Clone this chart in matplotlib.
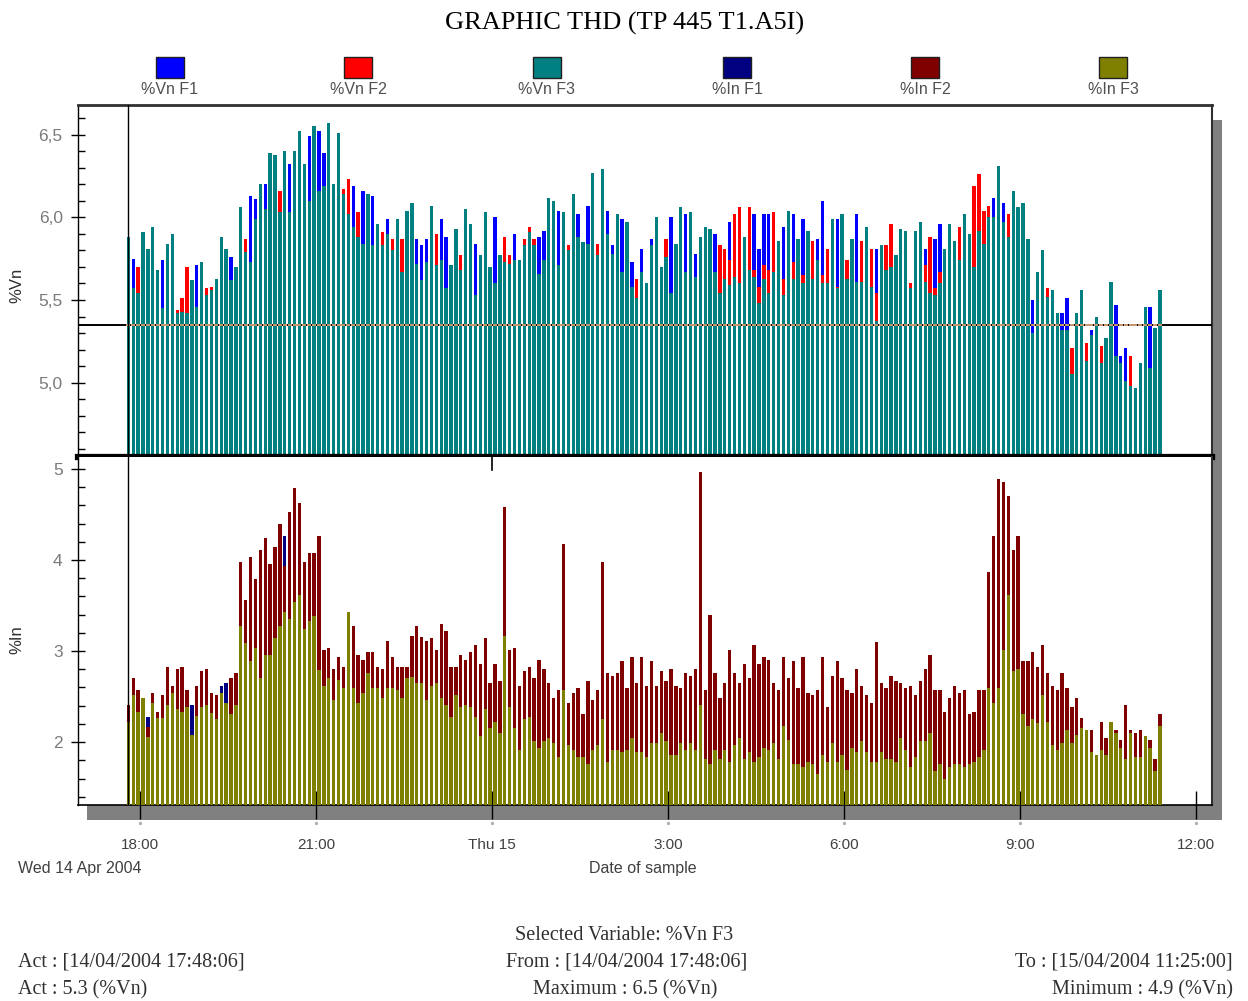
import numpy as np
import pandas as pd
import matplotlib
matplotlib.use("Agg")
import matplotlib.pyplot as plt
import matplotlib.dates as mdates
import matplotlib.transforms as mtransforms
from matplotlib.patches import Rectangle
from matplotlib.ticker import MultipleLocator, FuncFormatter
from datetime import datetime

N = None

# ---- sampling: one record every 5 minutes --------------------------------
start_time = "2004-04-14 17:48:06"
n_samples = 212
sample_step = "5min"

# ---- voltage THD (%Vn) ----------------------------------------------------
vn_f3 = [
    5.88, 5.57, 5.54, 5.91, 5.81, 5.94, 5.68, 5.45, 5.84, 5.90,
    5.42, 5.43, 5.42, 5.62, 5.46, 5.73, 5.53, 5.56, 5.63, 5.88,
    5.81, 5.62, 5.70, 6.06, 5.79, 5.73, 5.99, 6.20, 6.05, 6.39,
    6.38, 6.03, 6.40, 6.03, 6.40, 6.52, 6.32, 6.10, 6.55, 6.16,
    6.19, 6.57, 6.20, 6.51, 6.14, 6.02, 5.94, 5.88, 5.84, 6.14,
    5.83, 5.96, 5.83, 5.90, 5.80, 5.99, 5.67, 6.04, 6.09, 5.72,
    5.62, 5.73, 6.07, 5.71, 5.74, 5.57, 5.71, 5.93, 5.68, 6.05,
    5.96, 5.53, 5.77, 6.03, 5.70, 5.60, 5.77, 5.73, 5.72, 5.74,
    5.74, 5.83, 5.91, 5.83, 5.66, 5.74, 6.12, 6.10, 5.71, 6.03,
    5.80, 6.14, 5.88, 5.85, 5.84, 6.27, 5.77, 6.29, 5.90, 5.78,
    6.02, 5.67, 5.97, 5.58, 5.51, 5.67, 5.60, 5.83, 6.00, 5.70,
    5.76, 5.54, 5.84, 6.06, 5.67, 6.03, 5.64, 5.88, 5.94, 5.93,
    5.67, 5.54, 5.63, 5.59, 5.64, 5.60, 5.88, 5.68, 5.64, 5.48,
    5.63, 5.54, 5.67, 5.86, 5.53, 6.04, 5.63, 5.87, 5.60, 5.92,
    5.63, 5.74, 5.60, 5.60, 5.99, 5.57, 6.02, 5.63, 5.87, 5.61,
    5.61, 5.94, 5.58, 5.37, 5.83, 5.68, 5.70, 5.77, 5.93, 5.92,
    5.57, 5.92, 5.97, 5.61, 5.54, 5.53, 5.60, 5.81, 5.96, 5.86,
    5.74, 6.02, 5.90, 5.70, 5.92, 5.84, 6.00, 6.00, 6.31, 5.97,
    5.88, 6.16, 6.06, 6.09, 5.87, 5.30, 5.67, 5.80, 5.52, 5.56,
    5.42, 5.32, 5.32, 5.05, 5.42, 5.56, 5.13, 5.29, 5.40, 5.12,
    5.27, 5.61, 5.16, 5.12, 5.01, 4.98, 4.97, 5.12, 5.46, 5.09,
    5.33, 5.56,
]

# phases 1 and 2: only the samples that rise above the phases in front
vn_f1 = [
    N, 5.75, N, N, N, N, N, 5.74, N, N,
    N, N, N, N, 5.71, N, N, N, N, N,
    N, 5.76, N, N, N, 6.13, 6.11, N, 6.20, N,
    N, N, N, 6.32, N, N, N, 6.49, N, 6.52,
    6.39, N, N, N, N, N, 6.19, N, 6.16, N,
    6.13, N, N, 5.99, N, N, N, N, N, 5.87,
    5.83, 5.87, N, N, 5.99, 5.88, N, N, N, N,
    N, 5.84, N, N, N, 6.00, N, N, N, 5.90,
    N, N, N, N, 5.88, 5.92, N, N, 6.04, N,
    N, N, 6.02, N, 6.07, N, N, N, 6.04, 5.83,
    N, 5.99, N, 5.73, N, 5.81, N, 5.87, N, N,
    N, 6.00, N, N, 6.02, N, 5.78, N, N, N,
    5.90, N, N, 5.97, N, N, N, N, 6.02, 5.81,
    6.02, 6.02, N, N, 5.94, N, 6.02, N, 5.99, N,
    N, 5.87, 6.10, N, N, 5.99, N, N, N, 6.02,
    N, N, N, 5.81, N, N, N, N, N, N,
    N, N, N, 5.81, N, 5.87, 5.96, N, N, N,
    N, N, N, N, N, N, N, 6.12, N, 6.09,
    N, N, N, N, N, 5.50, N, N, N, N,
    N, 5.42, 5.51, N, N, N, N, 5.32, N, N,
    N, N, 5.47, 5.16, 5.21, N, N, N, N, 5.46,
    N, N,
]

vn_f2 = [
    N, N, 5.70, N, N, N, N, N, N, N,
    5.44, 5.51, 5.70, N, N, N, 5.57, 5.58, N, N,
    N, N, N, N, 5.87, N, N, N, N, N,
    N, 6.16, N, N, N, N, N, N, N, N,
    N, N, N, N, 6.17, 6.23, N, 6.03, N, N,
    N, N, 5.91, N, 5.87, N, 5.87, N, N, N,
    N, N, N, 5.90, N, N, N, N, 5.77, N,
    N, N, N, N, N, N, N, 5.88, 5.77, N,
    N, 5.87, 5.94, 5.87, N, N, N, N, N, N,
    5.83, N, N, N, N, N, 5.84, N, N, N,
    N, N, N, N, 5.63, N, N, N, N, N,
    5.87, N, N, N, N, N, N, N, N, N,
    N, 5.83, 5.81, 5.74, 6.02, 6.06, N, 6.06, 5.68, 5.58,
    5.71, 5.68, 6.03, N, 5.63, N, 5.73, N, 5.65, N,
    5.86, N, 5.65, 5.81, N, 5.58, N, 5.74, N, N,
    5.86, N, 5.81, 5.54, N, 5.83, 5.96, N, N, N,
    5.60, N, N, 5.71, 5.88, 5.57, 5.67, N, N, N,
    5.94, N, N, 6.19, 6.26, 6.04, 6.07, N, N, N,
    6.02, N, N, N, N, N, N, N, 5.57, N,
    N, N, N, 5.21, N, N, 5.24, N, N, 5.22,
    N, N, N, N, N, 5.16, N, N, N, N,
    N, N,
]

# ---- current THD (%In) ----------------------------------------------------
in_f3 = [
    2.22, 2.52, 2.33, 2.49, 2.06, 2.43, 2.26, 2.26, 2.41, 2.54,
    2.36, 2.33, 2.39, 2.08, 2.29, 2.39, 2.41, 2.32, 2.25, 2.54,
    2.43, 2.31, 2.41, 3.27, 3.09, 2.89, 3.03, 2.70, 2.96, 2.96,
    3.14, 3.27, 3.43, 3.35, 3.54, 3.61, 3.24, 3.33, 3.38, 2.79,
    2.62, 2.70, 2.46, 2.68, 2.59, 3.43, 2.59, 2.43, 2.54, 2.76,
    2.59, 2.59, 2.49, 2.59, 2.59, 2.57, 2.49, 2.70, 2.72, 2.65,
    2.65, 2.46, 2.62, 2.65, 2.49, 2.41, 2.28, 2.52, 2.39, 2.41,
    2.39, 2.28, 2.07, 2.36, 2.15, 2.22, 2.10, 3.17, 2.39, 2.15,
    1.91, 2.25, 2.28, 2.01, 1.94, 2.01, 2.04, 1.99, 1.84, 2.57,
    1.97, 1.91, 1.84, 1.84, 1.76, 1.91, 1.97, 2.25, 1.78, 1.91,
    1.91, 1.89, 1.91, 2.05, 1.89, 1.89, 1.84, 1.99, 1.99, 2.10,
    2.01, 1.86, 1.86, 1.99, 1.91, 1.99, 1.91, 2.41, 1.81, 1.76,
    1.91, 1.81, 1.91, 1.78, 1.97, 2.05, 1.81, 1.89, 1.78, 1.84,
    1.94, 1.91, 1.99, 1.81, 2.18, 2.02, 1.76, 1.76, 1.73, 1.78,
    1.76, 1.65, 1.86, 1.78, 1.99, 1.78, 1.86, 1.69, 1.94, 1.89,
    2.01, 1.89, 1.78, 1.78, 1.89, 1.81, 1.81, 1.78, 2.05, 1.91,
    1.73, 1.84, 2.01, 2.01, 2.10, 1.68, 1.76, 1.60, 1.73, 1.76,
    1.76, 1.73, 1.76, 1.78, 1.84, 1.91, 2.59, 2.43, 2.59, 3.01,
    3.61, 2.78, 2.80, 2.31, 2.18, 2.25, 2.21, 2.52, 2.22, 1.97,
    1.91, 1.99, 2.13, 1.99, 2.08, 2.15, 2.13, 1.89, 1.86, 1.91,
    1.86, 2.22, 2.10, 1.94, 1.81, 2.10, 1.84, 1.84, 2.07, 1.94,
    1.68, 2.18,
]

in_f2 = [
    2.41, 2.70, 2.57, N, 2.17, 2.54, 2.33, 2.52, 2.83, 2.62,
    2.80, 2.83, 2.57, N, 2.62, 2.78, 2.80, 2.54, 2.52, N,
    N, 2.70, 2.76, 3.98, 3.56, 4.03, 3.79, 4.11, 4.24, 3.95,
    4.14, 4.39, 3.93, 4.53, 4.79, 4.63, 3.98, 4.08, 4.08, 4.26,
    3.01, 3.03, 2.80, 2.93, 2.83, N, 3.27, 2.96, 2.90, 2.99,
    2.99, 2.83, 2.80, 3.11, 2.93, 2.83, 2.83, 2.83, 3.17, 3.27,
    3.15, 3.11, 3.14, 3.01, 3.30, 3.22, 2.83, 2.83, 2.96, 2.90,
    2.99, 3.07, 2.86, 3.14, 2.65, 2.86, 2.67, 4.58, 3.01, 3.03,
    2.62, 2.78, 2.83, 2.70, 2.90, 2.80, 2.65, 2.49, 2.57, 4.18,
    2.43, 2.54, 2.59, 2.31, 2.67, 2.46, 2.57, 3.98, 2.76, 2.73,
    2.76, 2.89, 2.59, 2.93, 2.65, 2.93, 2.62, 2.89, 2.62, 2.78,
    2.67, 2.80, 2.62, 2.59, 2.76, 2.73, 2.80, 4.97, 2.57, 3.40,
    2.76, 2.49, 2.65, 3.01, 2.76, 2.65, 2.86, 2.70, 3.07, 2.86,
    2.93, 2.90, 2.65, 2.57, 2.93, 2.70, 2.89, 2.59, 2.93, 2.54,
    2.52, 2.57, 2.93, 2.39, 2.73, 2.89, 2.70, 2.57, 2.54, 2.80,
    2.62, 2.52, 2.43, 3.10, 2.65, 2.59, 2.73, 2.67, 2.65, 2.59,
    2.62, 2.52, 2.67, 2.80, 2.96, 2.57, 2.57, 2.33, 2.49, 2.62,
    2.54, 2.57, 2.31, 2.33, 2.57, 2.57, 3.87, 4.26, 4.89, 4.86,
    4.70, 4.11, 4.26, 2.89, 2.89, 2.99, 2.83, 3.07, 2.76, 2.62,
    2.57, 2.76, 2.59, 2.39, 2.49, 2.26, 2.00, 2.13, N, 2.22,
    2.05, N, 2.13, 2.02, 2.41, 2.13, 2.10, 2.13, N, 2.02,
    1.81, 2.31,
]

in_f1 = [
    N, N, N, N, 2.28, N, N, N, N, N,
    N, N, N, 2.41, N, N, N, N, N, 2.62,
    2.65, N, N, N, N, N, N, N, N, N,
    N, N, 4.26, N, N, N, N, N, N, N,
] + [N] * 172

act_level = 5.35
cursor_time = datetime(2004, 4, 14, 17, 48, 6)

x_ticks = [datetime(2004, 4, 14, 18), datetime(2004, 4, 14, 21),
           datetime(2004, 4, 15, 0), datetime(2004, 4, 15, 3),
           datetime(2004, 4, 15, 6), datetime(2004, 4, 15, 9),
           datetime(2004, 4, 15, 12)]
x_labels = ["18:00", "21:00", "Thu 15", "3:00", "6:00", "9:00", "12:00"]
x_range = (datetime(2004, 4, 14, 16, 56, 35), datetime(2004, 4, 15, 12, 16, 25))

legend_names = ["%Vn F1", "%Vn F2", "%Vn F3", "%In F1", "%In F2", "%In F3"]
colors = ["#0000ff", "#ff0000", "#008080", "#000080", "#800000", "#808000"]

series = [vn_f1, vn_f2, vn_f3, in_f1, in_f2, in_f3]
for s in series:
    assert len(s) == n_samples

def arr(values):
    return np.array([np.nan if v is None else v for v in values], dtype=float)

times = pd.date_range(start_time, periods=n_samples, freq=sample_step)
t = mdates.date2num(times.to_pydatetime())
bar_w = 0.68 * 5.0 / 1440.0

# ---- figure layout (pixel helpers) --------------------------------------
W, H = 1248, 1001
def fx(x):
    return x / W
def fy(y):
    return 1 - y / H

sans = ["Liberation Sans Narrow", "Liberation Sans", "DejaVu Sans"]
serif = ["Liberation Serif", "DejaVu Serif"]

fig = plt.figure(figsize=(W / 100, H / 100), dpi=100)
fig.patch.set_facecolor("white")

L, R = 78, 1212
TOP, MID, BOT = 105, 457, 805

# drop shadow behind the plot frame
fig.patches.append(Rectangle((fx(87), fy(820)), fx(1222) - fx(87), fy(120) - fy(820),
                             transform=fig.transFigure, facecolor="#808080",
                             edgecolor="none", zorder=-5))

ax1 = fig.add_axes([fx(L), fy(MID), fx(R) - fx(L), fy(TOP) - fy(MID)])
ax2 = fig.add_axes([fx(L), fy(BOT), fx(R) - fx(L), fy(MID) - fy(BOT)])

# upper panel: voltage THD, phase 3 in front
ax1.bar(t, arr(vn_f1), width=bar_w, color=colors[0], linewidth=0, zorder=3)
ax1.bar(t, arr(vn_f2), width=bar_w, color=colors[1], linewidth=0, zorder=4)
ax1.bar(t, arr(vn_f3), width=bar_w, color=colors[2], linewidth=0, zorder=5)
ax1.axhline(act_level, color="black", lw=1.4, zorder=6)
ax1.plot(t, np.full(n_samples, act_level), ls="none", marker="_", ms=2.6, mew=1.3,
         color="#d9a877", zorder=7)
ax1.set_ylim(4.55, 6.68)

# lower panel: current THD
ax2.bar(t, arr(in_f1), width=bar_w, color=colors[3], linewidth=0, zorder=3)
ax2.bar(t, arr(in_f2), width=bar_w, color=colors[4], linewidth=0, zorder=4)
ax2.bar(t, arr(in_f3), width=bar_w, color=colors[5], linewidth=0, zorder=5)
ax2.set_ylim(1.31, 5.13)

for ax in (ax1, ax2):
    ax.set_xlim(mdates.date2num(x_range[0]), mdates.date2num(x_range[1]))
    ax.axvline(mdates.date2num(cursor_time), color="black", lw=1.0, zorder=8)
    ax.set_facecolor("white")
    ax.spines["left"].set_color("black")
    ax.spines["left"].set_linewidth(1.0)
    ax.spines["right"].set_color("#303030")
    ax.spines["right"].set_linewidth(1.5)
    ax.tick_params(axis="y", which="major", direction="inout", length=10, width=1,
                   colors="black", labelcolor="#7a7a7a", labelsize=12.5, pad=6)
    ax.tick_params(axis="y", which="minor", direction="in", length=5, width=1,
                   colors="black")

ax1.yaxis.set_major_locator(MultipleLocator(0.5))
ax1.yaxis.set_minor_locator(MultipleLocator(0.1))
ax1.yaxis.set_major_formatter(FuncFormatter(lambda v, p: f"{v:.1f}".replace(".", ",")))
ax2.yaxis.set_major_locator(MultipleLocator(1))
ax2.yaxis.set_minor_locator(MultipleLocator(0.2))
ax2.yaxis.set_major_formatter(FuncFormatter(lambda v, p: f"{v:.0f}"))

ax1.spines["top"].set_color("#303030")
ax1.spines["top"].set_linewidth(2)
ax1.spines["bottom"].set_color("black")
ax1.spines["bottom"].set_linewidth(4.5)
ax1.spines["bottom"].set_zorder(9)
ax1.set_xticks([])
ax2.spines["top"].set_visible(False)
ax2.spines["bottom"].set_color("black")
ax2.spines["bottom"].set_linewidth(1.2)

ax2.set_xticks(mdates.date2num(x_ticks))
ax2.set_xticklabels(x_labels)
ax2.tick_params(axis="x", direction="inout", length=20, width=1, colors="black",
                labelcolor="#404040", labelsize=11, pad=14)
for lab in ax2.get_xticklabels():
    lab.set_family(sans)
for ax in (ax1, ax2):
    for lab in ax.get_yticklabels():
        lab.set_family(sans)

# small dots under each time tick, inside the shadow strip
dot_tr = mtransforms.blended_transform_factory(ax2.transData, ax2.transAxes)
ax2.plot(mdates.date2num(x_ticks), np.full(len(x_ticks), -18 / 348), ls="none",
         marker="s", ms=1.2, color="#b0b0b0", transform=dot_tr, clip_on=False)

# day boundary marker on the panel joint
ax2.axvline(mdates.date2num(x_ticks[2]), ymin=1 - 13 / 348, ymax=1.0,
            color="black", lw=1.2, zorder=9)

# ---- titles and labels ---------------------------------------------------
fig.text(fx(625), fy(23), "GRAPHIC THD (TP 445 T1.A5I)", ha="center", va="center",
         fontsize=19, family=serif, color="black")
fig.text(fx(17), fy(285), "%Vn", rotation=90, ha="center", va="center",
         fontsize=12, family=sans, color="#303030")
fig.text(fx(17), fy(640), "%In", rotation=90, ha="center", va="center",
         fontsize=12, family=sans, color="#303030")
fig.text(fx(18), fy(868), "Wed 14 Apr 2004", ha="left", va="center",
         fontsize=11.5, family=sans, color="#404040")
fig.text(fx(643), fy(868), "Date of sample", ha="center", va="center",
         fontsize=11.5, family=sans, color="#404040")

# legend row
legend_x = [170, 358, 547, 737, 925, 1113]
for cx, name, col in zip(legend_x, legend_names, colors):
    fig.patches.append(Rectangle((fx(cx - 14), fy(78)), fx(28), fy(57) - fy(78),
                                 transform=fig.transFigure, facecolor=col,
                                 edgecolor="#202020", linewidth=1.0, zorder=2))
    fig.text(fx(cx), fy(89), name, ha="center", va="center", fontsize=11.5,
             family=sans, color="#505050")

# summary block
fs = 14.5
tc = "#303030"
fig.text(fx(624), fy(935), "Selected Variable: %Vn F3", ha="center", va="center",
         fontsize=fs, family=serif, color=tc)
fig.text(fx(18), fy(962), "Act : [14/04/2004 17:48:06]", ha="left", va="center",
         fontsize=fs, family=serif, color=tc)
fig.text(fx(627), fy(962), "From : [14/04/2004 17:48:06]", ha="center", va="center",
         fontsize=fs, family=serif, color=tc)
fig.text(fx(1233), fy(962), "To : [15/04/2004 11:25:00]", ha="right", va="center",
         fontsize=fs, family=serif, color=tc)
fig.text(fx(18), fy(990), "Act : 5.3 (%Vn)", ha="left", va="center",
         fontsize=fs, family=serif, color=tc)
fig.text(fx(625), fy(990), "Maximum : 6.5 (%Vn)", ha="center", va="center",
         fontsize=fs, family=serif, color=tc)
fig.text(fx(1233), fy(990), "Minimum : 4.9 (%Vn)", ha="right", va="center",
         fontsize=fs, family=serif, color=tc)

fig.savefig("out.png", dpi=100)
